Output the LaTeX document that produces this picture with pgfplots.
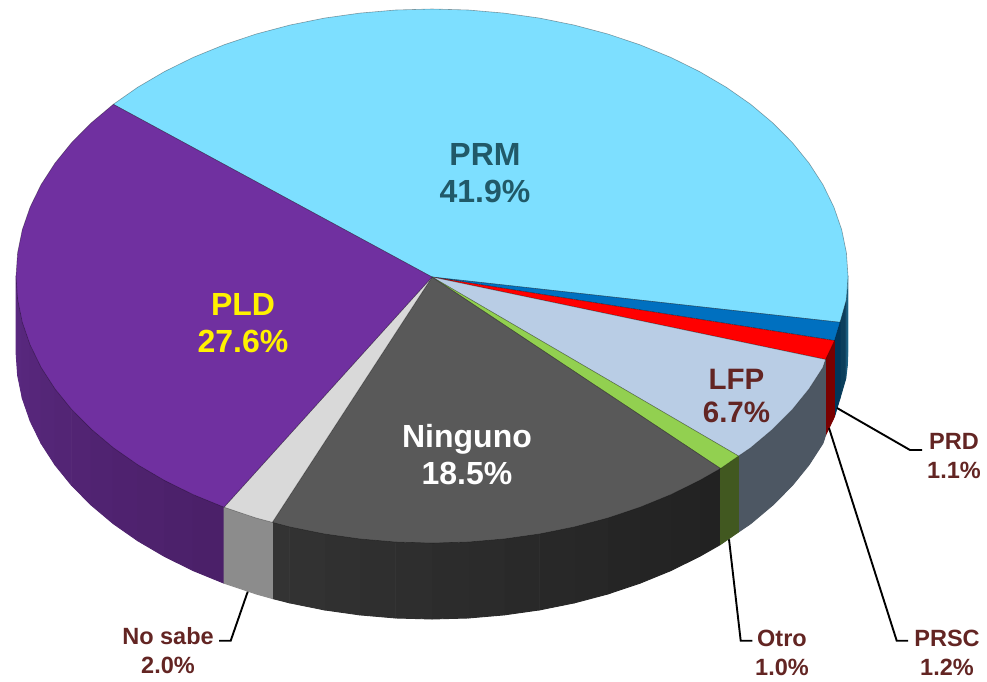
\documentclass[border=0pt]{standalone}
\usepackage{pgfplots}
\pgfplotsset{compat=1.18}
\usepackage{fontspec}
\setmainfont{Liberation Sans}
\definecolor{cPRM}{HTML}{7DDFFF}
\definecolor{cPRD}{HTML}{0070C0}
\definecolor{cPRSC}{HTML}{FF0000}
\definecolor{cLFP}{HTML}{B9CDE5}
\definecolor{cOtro}{HTML}{92D050}
\definecolor{cNing}{HTML}{595959}
\definecolor{cNS}{HTML}{D9D9D9}
\definecolor{cPLD}{HTML}{7030A0}
\definecolor{brownlab}{HTML}{632523}
\definecolor{teallab}{HTML}{215968}
% wall colours
\definecolor{pa}{HTML}{4B2069}
\definecolor{pf}{HTML}{5A2980}
\definecolor{nsw}{HTML}{8C8C8C}
\definecolor{ga}{HTML}{333333}
\definecolor{ge}{HTML}{222222}
\definecolor{otw}{HTML}{415820}
\definecolor{lfw}{HTML}{4D5763}
\definecolor{rew}{HTML}{7A0000}
\definecolor{bdw}{HTML}{00365A}
\definecolor{ma}{HTML}{0C3F5C}
\definecolor{mb}{HTML}{1C5F80}
\definecolor{mc}{HTML}{5F9FB8}
% side wall strip: colour, outline coordinates
\newcommand\wall[2]{\addplot[fill={#1},draw={#1},line width=0.9pt,line join=round,forget plot] coordinates {#2} --cycle;}
% top face slice: colour, outline coordinates
\newcommand\slice[2]{\addplot[fill=#1,draw=black,draw opacity=0.35,line width=0.6pt,forget plot] coordinates {#2} --cycle;}
\newcommand\leader[1]{\addplot[black,line width=1.9pt,forget plot] coordinates {#1};}
\tikzset{big/.style={align=center,inner sep=0pt,font=\bfseries\fontsize{32}{37}\selectfont},
  small/.style={align=center,inner sep=0pt,text=brownlab,font=\bfseries\fontsize{23.5}{29}\selectfont}}
\begin{document}
\begin{tikzpicture}
\path[use as bounding box] (0,0) rectangle (987pt,681pt);
\begin{axis}[
  at={(0,0)}, anchor=south west,
  scale only axis, width=987pt, height=681pt,
  xmin=0, xmax=987, ymin=0, ymax=681, y dir=reverse,
  hide axis, clip=false
]
% ---- side walls: PLD
\wall{pf!100!pa}{(17.6,299.3)(16,276)(16,352)(17.6,375.3)}
\wall{pf!90!pa}{(22.3,322.3)(17.6,299.3)(17.6,375.3)(22.3,398.3)}
\wall{pf!81!pa}{(30.2,345.1)(22.3,322.3)(22.3,398.3)(30.2,421.1)}
\wall{pf!72!pa}{(41.1,367.4)(30.2,345.1)(30.2,421.1)(41.1,443.4)}
\wall{pf!63!pa}{(55,388.9)(41.1,367.4)(41.1,443.4)(55,464.9)}
\wall{pf!54!pa}{(71.7,409.5)(55,388.9)(55,464.9)(71.7,485.5)}
\wall{pf!45!pa}{(91.2,429.1)(71.7,409.5)(71.7,485.5)(91.2,505.1)}
\wall{pf!36!pa}{(113.3,447.7)(91.2,429.1)(91.2,505.1)(113.3,523.7)}
\wall{pf!27!pa}{(137.8,464.8)(113.3,447.7)(113.3,523.7)(137.8,540.8)}
\wall{pf!18!pa}{(164.6,480.5)(137.8,464.8)(137.8,540.8)(164.6,556.5)}
\wall{pf!9!pa}{(193.4,494.7)(164.6,480.5)(164.6,556.5)(193.4,570.7)}
\wall{pf!0!pa}{(224,507.2)(193.4,494.7)(193.4,570.7)(224,583.2)}
% Ninguno
\wall{ge!100!ga}{(720.5,468.5)(699.4,480.5)(699.4,556.5)(720.5,544.5)}
\wall{ge!94!ga}{(699.4,480.5)(670.6,494.7)(670.6,570.7)(699.4,556.5)}
\wall{ge!88!ga}{(670.6,494.7)(640,507.2)(640,583.2)(670.6,570.7)}
\wall{ge!80!ga}{(640,507.2)(607.8,518)(607.8,594)(640,583.2)}
\wall{ge!72!ga}{(607.8,518)(574.3,526.9)(574.3,602.9)(607.8,594)}
\wall{ge!64!ga}{(574.3,526.9)(539.7,533.9)(539.7,609.9)(574.3,602.9)}
\wall{ge!56!ga}{(539.7,533.9)(504.2,538.9)(504.2,614.9)(539.7,609.9)}
\wall{ge!48!ga}{(504.2,538.9)(468.3,542)(468.3,618)(504.2,614.9)}
\wall{ge!40!ga}{(468.3,542)(432,543)(432,619)(468.3,618)}
\wall{ge!32!ga}{(432,543)(395.7,542)(395.7,618)(432,619)}
\wall{ge!24!ga}{(395.7,542)(359.8,538.9)(359.8,614.9)(395.7,618)}
\wall{ge!16!ga}{(359.8,538.9)(324.3,533.9)(324.3,609.9)(359.8,614.9)}
\wall{ge!8!ga}{(324.3,533.9)(289.7,526.9)(289.7,602.9)(324.3,609.9)}
\wall{ge!0!ga}{(289.7,526.9)(272.3,522.3)(272.3,598.5)(289.7,602.9)}
% No sabe
\wall{nsw}{(272.3,522.3)(256.2,518)(224,507.2)(224,583.2)(256.2,594)(272.3,598.5)}
% PRM
\wall{mc}{(848,276)(847.4,289)(847.4,365)(848,352)}
\wall{mb}{(847.4,289)(845.7,302.8)(845.7,378.8)(847.4,365)}
\wall{ma}{(845.7,302.8)(840,322.3)(840,398.3)(845.7,378.8)}
% PRD
\wall{bdw}{(840,322.3)(834.5,340.6)(834.5,416.6)(840,398.3)}
% PRSC
\wall{rew}{(834.5,340.6)(825.5,359.5)(825.5,435.5)(834.5,416.6)}
% LFP
\wall{lfw}{(825.5,359.5)(822.9,367.4)(809,388.9)(792.3,409.5)(772.8,429.1)(750.7,447.7)(738.5,456)(738.5,532)(750.7,523.7)(772.8,505.1)(792.3,485.5)(809,464.9)(822.9,443.4)(825.5,435.5)}
% Otro
\wall{otw}{(738.5,456)(720.5,468.5)(720.5,544.5)(738.5,532)}
% ---- top faces
\slice{cPRM}{(432,277)(113.3,104.3)(137.8,87.2)(164.6,71.5)(193.4,57.3)(224,44.8)(256.2,34)(289.7,25.1)(324.3,18.1)(359.8,13.1)(395.7,10)(432,9)(468.3,10)(504.2,13.1)(539.7,18.1)(574.3,25.1)(607.8,34)(640,44.8)(670.6,57.3)(699.4,71.5)(726.2,87.2)(750.7,104.3)(772.8,122.9)(792.3,142.5)(809,163.1)(822.9,184.6)(833.8,206.9)(841.7,229.7)(846.4,252.7)(848,276)(846.4,299.3)(840,322.3)}
\slice{cPRD}{(432,277)(840,322.3)(834.5,340.6)}
\slice{cPRSC}{(432,277)(834.5,340.6)(825.5,359.5)}
\slice{cLFP}{(432,277)(825.5,359.5)(822.9,367.4)(809,388.9)(792.3,409.5)(772.8,429.1)(750.7,447.7)(738.5,456)}
\slice{cOtro}{(432,277)(738.5,456)(720.5,468.5)}
\slice{cNing}{(432,277)(720.5,468.5)(699.4,480.5)(670.6,494.7)(640,507.2)(607.8,518)(574.3,526.9)(539.7,533.9)(504.2,538.9)(468.3,542)(432,543)(395.7,542)(359.8,538.9)(324.3,533.9)(289.7,526.9)(272.3,522.3)}
\slice{cNS}{(432,277)(272.3,522.3)(256.2,518)(224,507.2)}
\slice{cPLD}{(432,277)(224,507.2)(193.4,494.7)(164.6,480.5)(137.8,464.8)(113.3,447.7)(91.2,429.1)(71.7,409.5)(55,388.9)(41.1,367.4)(30.2,345.1)(22.3,322.3)(17.6,299.3)(16,276)(17.6,252.7)(22.3,229.7)(30.2,206.9)(41.1,184.6)(55,163.1)(71.7,142.5)(91.2,122.9)(113.3,104.3)}
% ---- leader lines
\leader{(837,408)(910,450)(922,450)}
\leader{(829,428)(896.7,640.7)(908,640.7)}
\leader{(729,539.3)(740.7,640.7)(752.3,640.7)}
\leader{(247.7,591.7)(230.7,640.7)(219,640.7)}
% ---- labels
\node[big,text=teallab] at (axis cs:485,173) {PRM\\41.9\%};
\node[big,text=yellow] at (axis cs:243,323) {PLD\\27.6\%};
\node[big,text=white] at (axis cs:467,455) {Ninguno\\18.5\%};
\node[big,text=brownlab,font=\bfseries\fontsize{29.5}{33}\selectfont] at (axis cs:736.5,396) {LFP\\6.7\%};
\node[small] at (axis cs:954,456) {PRD\\1.1\%};
\node[small] at (axis cs:947,653) {PRSC\\1.2\%};
\node[small] at (axis cs:782,653) {Otro\\1.0\%};
\node[small] at (axis cs:168,651) {No sabe\\2.0\%};
\end{axis}
\end{tikzpicture}
\end{document}
